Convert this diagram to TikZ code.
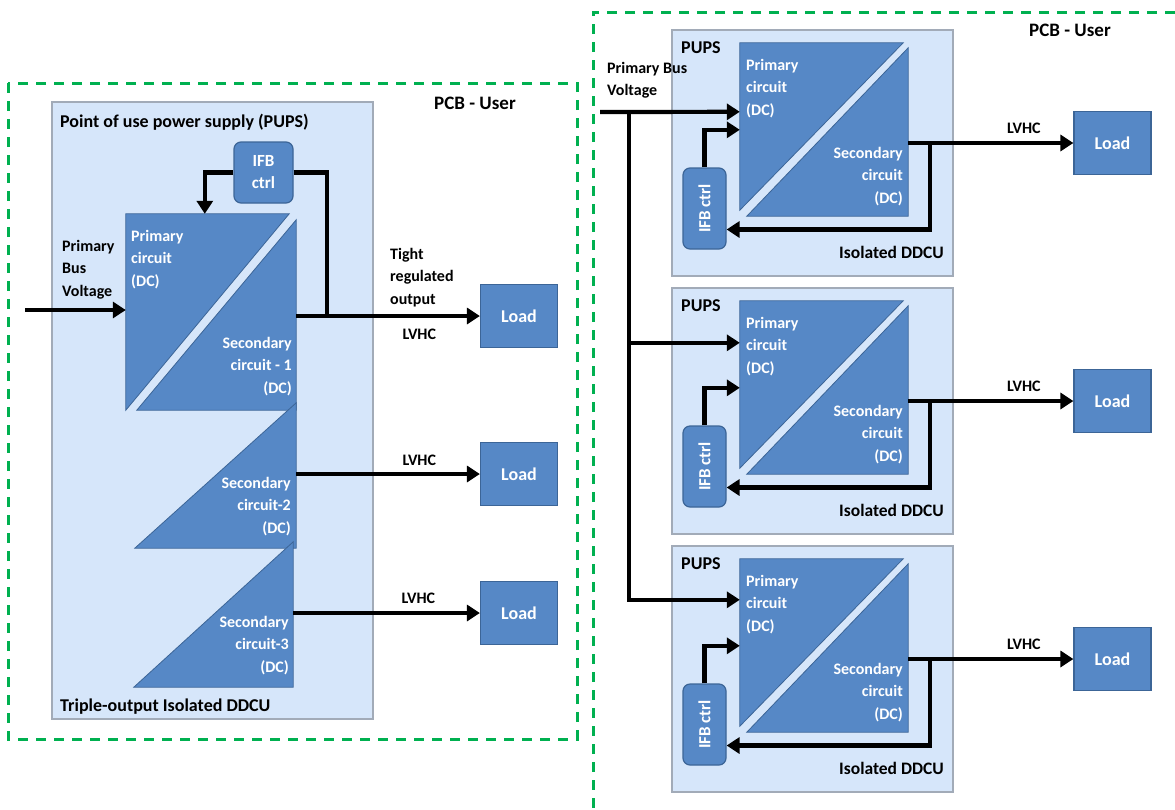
\documentclass[tikz,border=0pt]{standalone}
\usepackage{fontspec}
\setmainfont{Carlito}
\usetikzlibrary{arrows.meta}

\definecolor{panelbg}{HTML}{D6E6FA}
\definecolor{panelrim}{HTML}{A2ABB8}
\definecolor{block}{HTML}{5688C6}
\definecolor{blockrim}{HTML}{3C6597}
\definecolor{pcbgreen}{HTML}{00B050}

\begin{document}
\begin{tikzpicture}[x=1pt,y=-1pt,
    pcb/.style={draw=pcbgreen, line width=3pt, dash pattern=on 10pt off 8pt},
    panel/.style={draw=panelrim, fill=panelbg, line width=2pt, inner sep=0},
    blockfill/.style={fill=block, draw=blockrim, line width=0.8pt},
    conv/.style={inner sep=0},
    load/.style={draw=blockrim, fill=block, line width=1.2pt, text=white,
        font=\fontsize{18}{20}\selectfont\bfseries, minimum width=77pt, minimum height=63pt},
    ifbbox/.style={draw=blockrim, fill=block, line width=1.2pt, rounded corners=7pt,
        text=white, font=\fontsize{17}{22}\selectfont\bfseries, align=center, inner sep=0},
    wtxt/.style={text=white, font=\fontsize{16}{22.5}\selectfont\bfseries, inner sep=0},
    btxt/.style={font=\fontsize{16}{22.5}\selectfont\bfseries, inner sep=0},
    wire/.style={line width=4.2pt},
    arr/.style={wire, -{Triangle[length=13pt,width=16pt]}}
  ]
  \useasboundingbox (0,0) rectangle (1175,809);

  % PCB outlines
  \draw[pcb] (8,83) rectangle (577,739);
  \draw[pcb] (1175,12) -- (593,12) -- (593,809);
  \node[btxt, font=\fontsize{19}{22}\selectfont\bfseries] at (475,103) {PCB - User};
  \node[btxt, font=\fontsize{19}{22}\selectfont\bfseries] at (1070,30) {PCB - User};

  % left: triple-output converter
  \node[panel, minimum width=321pt, minimum height=617pt] (pups) at (212.5,410.5) {};
  \node[btxt, anchor=west, font=\fontsize{18}{20}\selectfont\bfseries] at (60,122) {Point of use power supply (PUPS)};
  \node[btxt, anchor=west, font=\fontsize{18}{20}\selectfont\bfseries] at (60,707) {Triple-output Isolated DDCU};

  \node[conv, minimum width=170pt, minimum height=196pt] (convL) at (211,312) {};
  \filldraw[blockfill] (convL.north west) -- ([xshift=-7pt]convL.north east) -- (convL.south west) -- cycle;
  \filldraw[blockfill] ([yshift=-6pt]convL.north east) -- (convL.south east) -- ([xshift=11pt]convL.south west) -- cycle;
  \node[conv, minimum width=161pt, minimum height=145pt] (secB) at (215.5,475.5) {};
  \filldraw[blockfill] (secB.north east) -- (secB.south east) -- (secB.south west) -- cycle;
  \node[conv, minimum width=159pt, minimum height=145pt] (secC) at (213.5,614.5) {};
  \filldraw[blockfill] (secC.north east) -- (secC.south east) -- (secC.south west) -- cycle;

  \node[wtxt, anchor=north west, align=left] at (131,230) {Primary\\circuit\\(DC)};
  \node[wtxt, anchor=north east, align=right] at (292,337) {Secondary\\circuit - 1\\(DC)};
  \node[wtxt, anchor=north east, align=right] at (291,477) {Secondary\\circuit-2\\(DC)};
  \node[wtxt, anchor=north east, align=right] at (289,616) {Secondary\\circuit-3\\(DC)};

  \node[ifbbox, minimum width=59pt, minimum height=61pt] (ifbL) at (263.5,172.5) {IFB\\ctrl};

  \node[load] (loadA) at (519,316) {Load};
  \node[load] (loadB) at (519,474) {Load};
  \node[load] (loadC) at (519,613) {Load};

  \coordinate (inL) at (25,310);
  \draw[arr] (inL) -- (inL -| convL.west);
  \node[btxt, anchor=north west, align=left] at (62,240) {Primary\\Bus\\Voltage};

  \draw[arr] (ifbL.west) -| ([xshift=79pt]convL.north west);
  \coordinate (tapL) at (327,316);
  \draw[wire] (ifbL.east) -| (tapL);

  \draw[arr] (loadA -| convL.east) -- node[btxt, pos=0.67, yshift=-18pt] {LVHC} (loadA.west);
  \draw[arr] (loadB -| secB.east) -- node[btxt, pos=0.67, yshift=14pt] {LVHC} (loadB.west);
  \draw[arr] (loadC -| secC.east) -- node[btxt, pos=0.67, yshift=15pt] {LVHC} (loadC.west);
  \node[btxt, anchor=north west, align=left] at (390,248) {Tight\\regulated\\output};

  % right: three single-output converters
  \foreach \i/\t/\p in {1/30/69, 2/288/42, 3/546/41}{
    \node[panel, minimum width=281pt, minimum height=246pt] (mod\i) at (812.5,\t+123) {};
    \node[btxt, anchor=west, font=\fontsize{18}{20}\selectfont\bfseries] at (681,\t+18) {PUPS};
    \node[btxt, anchor=east, font=\fontsize{17.5}{20}\selectfont\bfseries] at (944,\t+222) {Isolated DDCU};
    \node[conv, minimum width=168pt, minimum height=173pt] (conv\i) at (824,\t+99.5) {};
    \filldraw[blockfill] (conv\i.north west) -- ([xshift=-5pt]conv\i.north east) -- ([yshift=6pt]conv\i.south west) -- cycle;
    \filldraw[blockfill] ([yshift=-5pt]conv\i.north east) -- (conv\i.south east) -- ([xshift=7pt]conv\i.south west) -- cycle;
    \node[wtxt, anchor=north west, align=left] at (746,\t+29) {Primary\\circuit\\(DC)};
    \node[wtxt, anchor=north east, align=right] at (903,\t+117) {Secondary\\circuit\\(DC)};
    \node[ifbbox, minimum width=43pt, minimum height=81pt] (ifb\i) at (704.5,\t+178.5) {\rotatebox{90}{IFB ctrl}};
    \node[load] (load\i) at (1112.5,\t+113) {Load};
    \draw[arr] (load\i -| conv\i.east) -- node[btxt, pos=0.7, yshift=15pt] {LVHC} (load\i.west);
    \coordinate (tap\i) at ([xshift=22pt]load\i -| conv\i.east);
    \draw[arr] (tap\i) |- ([yshift=-21pt]ifb\i.east);
    \coordinate (fbin\i) at ([yshift=-87pt]conv\i.north west);
    \draw[arr] (ifb\i.north) |- (fbin\i);
    \coordinate (pin\i) at ([yshift=-\p pt]conv\i.north west);
  }

  \coordinate (busin) at (600,112);
  \coordinate (bj) at (629,112);
  \draw[arr] (busin) -- (pin1);
  \draw[arr] (bj) |- (pin2);
  \draw[arr] (bj) |- (pin3);
  \node[btxt, anchor=north west, align=left] at (607,62) {Primary Bus\\Voltage};
\end{tikzpicture}
\end{document}
